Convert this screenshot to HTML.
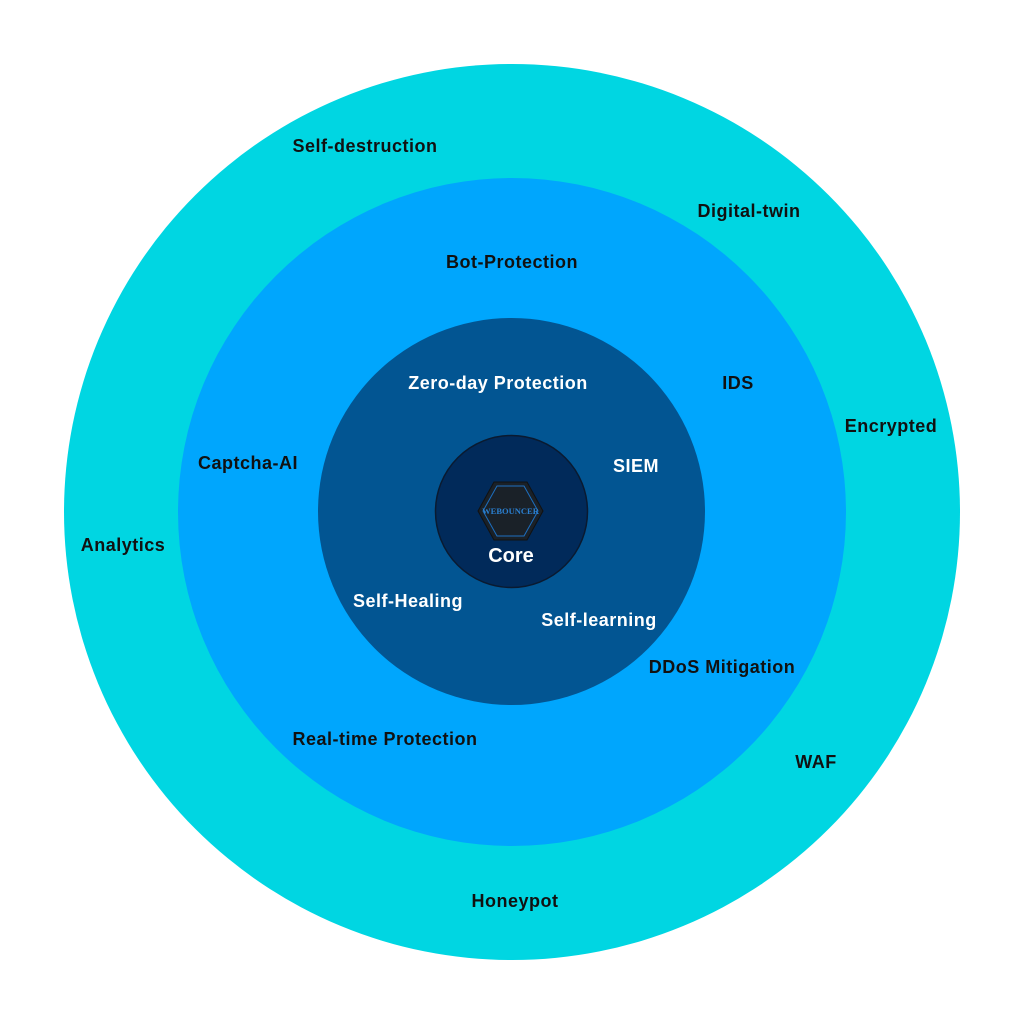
<!DOCTYPE html>
<html><head><style>body{margin:0;background:#fff}svg{display:block}</style></head><body>
<svg width="1024" height="1024" viewBox="0 0 1024 1024" xmlns="http://www.w3.org/2000/svg">
<circle cx="512" cy="512" r="448" fill="#00d6e2"/>
<circle cx="512" cy="512" r="334" fill="#00a6fd"/>
<circle cx="511.5" cy="511.5" r="193.5" fill="#025592"/>
<circle cx="511.5" cy="511.5" r="76" fill="#012a5a" stroke="#0a1a30" stroke-width="1.5"/>
<polygon points="478,511 494,482 527,482 543,511 527,540 494,540" fill="#1a2128" stroke="#111" stroke-width="1"/>
<polygon points="483,511 497,486 524,486 538,511 524,536 497,536" fill="none" stroke="#1d6fc0" stroke-width="1"/>
<text x="510.5" y="514" font-family="Liberation Serif, serif" font-size="8.5" font-weight="bold" fill="#2a7fd0" text-anchor="middle">WEBOUNCER</text>
<g font-family="Liberation Sans, sans-serif" font-weight="bold" text-anchor="middle" letter-spacing="0.5">
<text x="511" y="562" font-size="20" fill="#fff" letter-spacing="0">Core</text>
<g font-size="18" fill="#fff">
<text x="498" y="389">Zero-day Protection</text>
<text x="636" y="472">SIEM</text>
<text x="408" y="607">Self-Healing</text>
<text x="599" y="626">Self-learning</text>
</g>
<g font-size="18" fill="#111">
<text x="365" y="152">Self-destruction</text>
<text x="749" y="217">Digital-twin</text>
<text x="512" y="268">Bot-Protection</text>
<text x="738" y="389">IDS</text>
<text x="891" y="432">Encrypted</text>
<text x="248" y="469">Captcha-AI</text>
<text x="123" y="551">Analytics</text>
<text x="722" y="673">DDoS Mitigation</text>
<text x="385" y="745">Real-time Protection</text>
<text x="816" y="768">WAF</text>
<text x="515" y="907">Honeypot</text>
</g>
</g>
</svg>
</body></html>
